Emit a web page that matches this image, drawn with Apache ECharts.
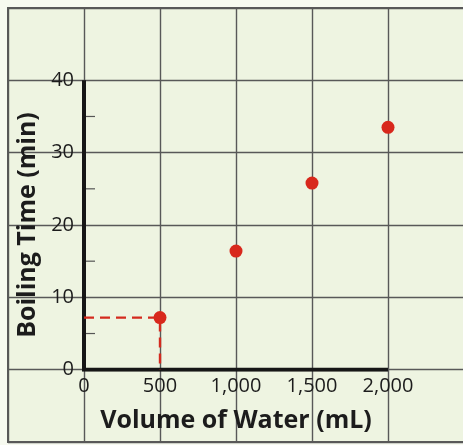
<!DOCTYPE html>
<html>
<head>
<meta charset="utf-8">
<script src="https://cdn.jsdelivr.net/npm/echarts@6/dist/echarts.min.js"></script>
<style>
html,body{margin:0;padding:0;background:#f7faf0;}
#c{width:463px;height:445px;}
</style>
</head>
<body>
<div id="c"></div>
<script>
// Data
const volumes = [500, 1000, 1500, 2000];          // mL
const boilTimes = [7.2, 16.4, 25.8, 33.5];        // min
const xTicks = [0, 500, 1000, 1500, 2000];
const yTicks = [0, 10, 20, 30, 40];
const yMinorTicks = [5, 15, 25, 35];
const guidePoint = [500, 7.2];
const xTitle = 'Volume of Water (mL)';
const yTitle = 'Boiling Time (min)';

const xMax = xTicks[xTicks.length - 1];
const yMax = yTicks[yTicks.length - 1];
const xStep = xTicks[1] - xTicks[0];
const yStep = yTicks[1] - yTicks[0];

const chart = echarts.init(document.getElementById('c'));
const labelFont = { fontFamily: 'Open Sans', fontSize: 20, color: '#1c1c1c' };
const nameFont = { fontFamily: 'Open Sans', fontSize: 25, fontWeight: 'bold', color: '#1c1c1c' };
const gridLine = { show: true, lineStyle: { color: '#585858', width: 1.4 } };

chart.setOption({
  animation: false,
  backgroundColor: '#f7faf0',
  grid: [
    { // background graph paper, one cell beyond the data range
      left: 8, top: 8, right: -1, bottom: 3,
      show: true, backgroundColor: '#eef4e1',
      borderColor: '#5a5a5a', borderWidth: 2,
      outerBoundsMode: 'none'
    },
    { // data area
      left: 84, top: 80.3, right: 75, bottom: 75.3,
      outerBoundsMode: 'none'
    }
  ],
  xAxis: [
    {
      gridIndex: 0, type: 'value',
      min: xTicks[0] - xStep, max: xMax + xStep, interval: xStep,
      axisLine: { show: false }, axisTick: { show: false }, axisLabel: { show: false },
      splitLine: gridLine
    },
    {
      gridIndex: 1, type: 'value', min: xTicks[0], max: xMax, interval: xStep,
      axisLine: { show: false }, axisTick: { show: false },
      splitLine: { show: false },
      axisLabel: { ...labelFont, margin: 7, formatter: v => v.toLocaleString('en-US') },
      name: xTitle, nameLocation: 'middle', nameGap: 39, nameTextStyle: nameFont
    }
  ],
  yAxis: [
    {
      gridIndex: 0, type: 'value',
      min: yTicks[0] - yStep, max: yMax + yStep, interval: yStep,
      axisLine: { show: false }, axisTick: { show: false }, axisLabel: { show: false },
      splitLine: gridLine
    },
    {
      gridIndex: 1, type: 'value', min: yTicks[0], max: yMax, interval: yStep,
      axisLine: { show: false }, axisTick: { show: false },
      splitLine: { show: false },
      axisLabel: { ...labelFont, margin: 10 },
      name: yTitle, nameLocation: 'middle', nameGap: 40, nameTextStyle: nameFont
    }
  ],
  series: [
    {
      type: 'line', xAxisIndex: 1, yAxisIndex: 1,
      data: [[0, yMax], [0, 0], [xMax, 0]],
      symbol: 'none',
      lineStyle: { color: '#161616', width: 4, cap: 'butt', join: 'miter' },
      silent: true, z: 3
    },
    {
      type: 'custom', xAxisIndex: 1, yAxisIndex: 1,
      data: yMinorTicks.map(v => [0, v]),
      renderItem: (params, api) => {
        const p = api.coord([api.value(0), api.value(1)]);
        return {
          type: 'line',
          shape: { x1: p[0] + 2, y1: p[1], x2: p[0] + 11, y2: p[1] },
          style: { stroke: '#555', lineWidth: 1.2 }
        };
      },
      silent: true, z: 3
    },
    {
      type: 'line', xAxisIndex: 1, yAxisIndex: 1,
      data: [[0, guidePoint[1]], guidePoint, [guidePoint[0], 0]],
      symbol: 'none',
      lineStyle: { color: '#d42a1e', width: 2.4, type: [10, 6] },
      silent: true, z: 4
    },
    {
      type: 'scatter', xAxisIndex: 1, yAxisIndex: 1,
      data: volumes.map((v, i) => [v, boilTimes[i]]),
      symbol: 'circle', symbolSize: 13,
      itemStyle: { color: '#d8281c', opacity: 1 },
      z: 5
    }
  ]
});
</script>
</body>
</html>
